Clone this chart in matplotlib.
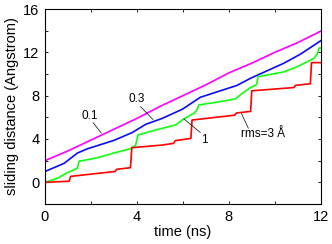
import matplotlib
matplotlib.use("Agg")
import matplotlib.pyplot as plt
from matplotlib.ticker import MultipleLocator

plt.rcParams['font.family'] = ['Liberation Sans', 'DejaVu Sans']

# rms = 0.1
t_01 = [0, 1, 2, 3, 4, 5, 6, 7, 8, 9, 10, 11, 12]
d_01 = [2.0, 2.9, 3.9, 4.9, 5.9, 7.0, 8.0, 9.0, 10.1, 11.0, 12.0, 12.9, 13.95]

# rms = 0.3
t_03 = [0, 0.83, 1.41, 1.85, 3.0, 3.8, 4.38, 5.1, 5.98, 6.76, 7.34, 8.36, 8.94, 10.4, 11.13, 12]
d_03 = [1.0, 1.75, 2.7, 3.1, 3.87, 4.6, 5.35, 5.9, 6.75, 7.85, 8.25, 8.95, 9.6, 11.0, 11.85, 13.07]

# rms = 1
t_1 = [0, 0.54, 0.97, 1.41, 1.48, 2.14, 3.0, 3.71, 3.94, 4.05, 4.81, 5.69, 6.0, 6.5, 6.62, 6.7,
       7.34, 8.29, 8.58, 8.94, 9.2, 9.28, 10.4, 10.98, 11.71, 11.86, 11.93, 12]
d_1 = [0.0, 0.37, 0.89, 1.29, 1.95, 2.2, 2.7, 3.1, 3.4, 4.37, 4.83, 5.3, 5.8, 6.4, 6.7, 7.15,
       7.35, 7.7, 8.2, 8.75, 9.0, 9.75, 10.2, 10.67, 11.45, 11.9, 12.4, 12.4]

# rms = 3 Angstrom
t_3 = [0, 1.05, 1.12, 3.05, 3.12, 3.72, 3.78, 5.1, 5.6, 5.67, 6.35, 6.4, 8.26, 8.33, 8.95, 9.0,
       10.83, 10.9, 11.55, 11.6, 12]
d_3 = [0.0, 0.1, 0.55, 1.0, 1.2, 1.35, 3.2, 3.44, 3.6, 3.85, 4.05, 5.75, 6.2, 6.4, 6.55, 8.45,
       8.75, 8.95, 9.1, 11.05, 11.05]

fig = plt.figure(figsize=(3.32, 2.44), dpi=100)
ax = fig.add_axes([0.1355, 0.164, 0.8305, 0.799])

ax.plot(t_01, d_01, color='#ff00ff', lw=1.2)
ax.plot(t_03, d_03, color='#0a0aff', lw=1.2)
ax.plot(t_1, d_1, color='#10ff10', lw=1.2)
ax.plot(t_3, d_3, color='#ff0000', lw=1.2)

ax.set_xlim(0, 12)
ax.set_ylim(-2, 16)
ax.xaxis.set_major_locator(MultipleLocator(4))
ax.xaxis.set_minor_locator(MultipleLocator(2))
ax.yaxis.set_major_locator(MultipleLocator(4))
ax.yaxis.set_minor_locator(MultipleLocator(2))
ax.tick_params(which='both', direction='in', top=True, right=True, length=2.5, width=0.6,
               labelsize=10.5, pad=4)
for s in ax.spines.values():
    s.set_linewidth(0.8)

ax.set_xlabel('time (ns)', fontsize=10.5, labelpad=1)
ax.set_ylabel('sliding distance (Angstrom)', fontsize=10.5, labelpad=3)

af = 8.5
ax.text(1.96, 6.12, '0.1', fontsize=af, ha='center', va='center')
ax.plot([2.1, 2.45], [5.5, 4.55], color='black', lw=0.5)
ax.text(4.0, 7.66, '0.3', fontsize=af, ha='center', va='center')
ax.plot([4.16, 4.7], [6.98, 5.8], color='black', lw=0.5)
ax.text(6.94, 3.9, '1', fontsize=af, ha='center', va='center')
ax.plot([6.05, 6.76], [5.85, 4.6], color='black', lw=0.5)
ax.text(9.5, 4.5, 'rms=3 Å', fontsize=af, ha='center', va='center')
ax.plot([8.85, 8.55], [5.0, 6.35], color='black', lw=0.5)

fig.savefig('out.png', dpi=100)
